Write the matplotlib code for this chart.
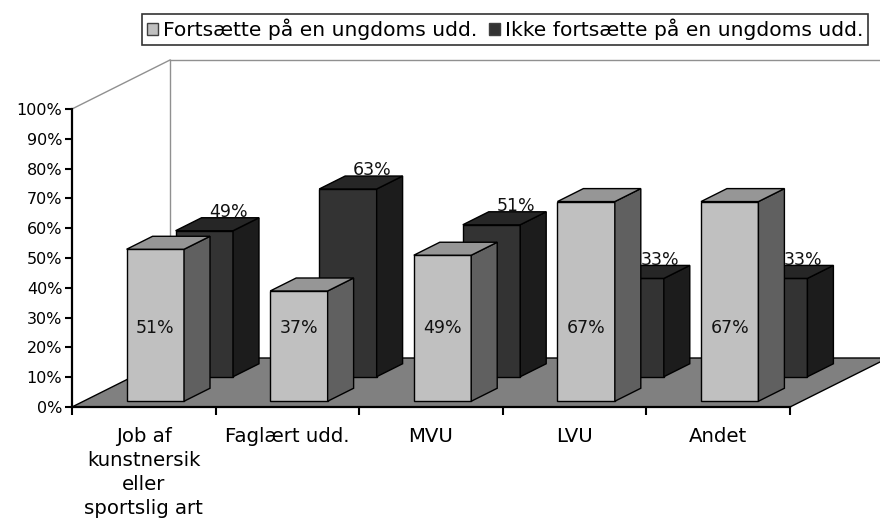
import matplotlib
matplotlib.use("Agg")
import matplotlib.pyplot as plt
from matplotlib.patches import Polygon, Patch

categories = ["Job af\nkunstnersik\neller\nsportslig art", "Faglært udd.", "MVU", "LVU", "Andet"]
series_names = ["Fortsætte på en ungdoms udd.", "Ikke fortsætte på en ungdoms udd."]
fortsaette = [51, 37, 49, 67, 67]
ikke_fortsaette = [49, 63, 51, 33, 33]
y_ticks = list(range(0, 101, 10))
y_tick_labels = [f"{t}%" for t in y_ticks]

W, H, DPI = 880, 525, 100
fig = plt.figure(figsize=(W / DPI, H / DPI), dpi=DPI)
plt.rcParams['font.family'] = ['DejaVu Sans']

# pixel geometry
x0_px, x5_px = 72, 790
y0_px, y100_px = 407, 109
xu = (x5_px - x0_px) / 5.0
yu = (y0_px - y100_px) / 100.0
ax_left, ax_right = 72, 880
ax_top = 45
ax = fig.add_axes([ax_left / W, (H - y0_px) / H, (ax_right - ax_left) / W, (y0_px - ax_top) / H])
ax.set_xlim(0, (ax_right - ax_left) / xu)
ax.set_ylim(0, (y0_px - ax_top) / yu)

DX = 98 / xu
DY = 49 / yu


def proj(x, y, d):
    return (x + d * DX, y + d * DY)


# floor and walls
floor = Polygon([proj(0, 0, 0), proj(5, 0, 0), proj(5, 0, 1), proj(0, 0, 1)],
                closed=True, facecolor="#808080", edgecolor="black", lw=1.0,
                clip_on=False, zorder=1)
ax.add_patch(floor)
wall_kw = dict(color="#909090", lw=1.0, clip_on=False, zorder=1)
ax.plot(*zip(proj(0, 100, 0), proj(0, 100, 1)), **wall_kw)
ax.plot(*zip(proj(0, 0, 1), proj(0, 100, 1)), **wall_kw)
ax.plot(*zip(proj(0, 100, 1), proj(5, 100, 1)), **wall_kw)

w = 0.4
rows = [
    (fortsaette, 0.1175, 0.3825, ("#c0c0c0", "#606060", "#969696")),
    (ikke_fortsaette, 0.6175, 0.8825, ("#333333", "#1c1c1c", "#262626")),
]


def draw_bar(c, v, d0, d1, cols, z):
    xl, xr = c - w / 2, c + w / 2
    front = [proj(xl, 0, d0), proj(xr, 0, d0), proj(xr, v, d0), proj(xl, v, d0)]
    side = [proj(xr, 0, d0), proj(xr, 0, d1), proj(xr, v, d1), proj(xr, v, d0)]
    top = [proj(xl, v, d0), proj(xr, v, d0), proj(xr, v, d1), proj(xl, v, d1)]
    for pts, col in ((front, cols[0]), (side, cols[1]), (top, cols[2])):
        ax.add_patch(Polygon(pts, closed=True, facecolor=col, edgecolor="black",
                             lw=1.0, zorder=z, joinstyle="miter"))


# back row first
vals, d0, d1, cols = rows[1]
for i, v in enumerate(vals):
    c = i + 0.5
    draw_bar(c, v, d0, d1, cols, 2)
    lx, ly = proj(c, v, d1)
    ax.text(lx - 0.01, ly + 1.9, f"{v}%", ha="center", va="center", fontsize=12.5,
            color="#111111", zorder=3)

vals, d0, d1, cols = rows[0]
for i, v in enumerate(vals):
    c = i + 0.5
    draw_bar(c, v, d0, d1, cols, 4)
    lx, ly = proj(c, 24.5, d0)
    ax.text(lx, ly, f"{v}%", ha="center", va="center", fontsize=12.5,
            color="#111111", zorder=5)

# axes styling
for s in ("top", "right"):
    ax.spines[s].set_visible(False)
ax.spines["left"].set_bounds(0, 100)
ax.spines["bottom"].set_bounds(0, 5)
ax.spines["left"].set_linewidth(1.6)
ax.spines["bottom"].set_linewidth(1.6)
ax.spines["left"].set_zorder(6)
ax.spines["bottom"].set_zorder(6)
ax.set_yticks(y_ticks)
ax.set_yticklabels(y_tick_labels)
ax.tick_params(axis="y", length=5, width=1.5, labelsize=11.5, pad=2, colors="black")
ax.set_xticks(range(6))
ax.set_xticklabels([])
ax.tick_params(axis="x", which="major", length=6, width=1.5)
ax.set_xticks([i + 0.5 for i in range(5)], minor=True)
ax.set_xticklabels(categories, minor=True, fontsize=14.2, linespacing=1.33)
ax.tick_params(axis="x", which="minor", length=0, pad=14.5)

handles = [Patch(facecolor="#c0c0c0", edgecolor="#404040"),
           Patch(facecolor="#333333", edgecolor="#404040")]
leg = fig.legend(handles, series_names, loc="center", ncol=2,
                 bbox_to_anchor=(505 / W, 1 - 29.5 / H), fontsize=14.6,
                 frameon=True, fancybox=False, handlelength=0.55, handleheight=0.55,
                 handletextpad=0.25, columnspacing=0.55, borderpad=0.25)
leg.get_frame().set_edgecolor("black")
leg.get_frame().set_linewidth(1.2)

fig.savefig("out.png", dpi=DPI)
